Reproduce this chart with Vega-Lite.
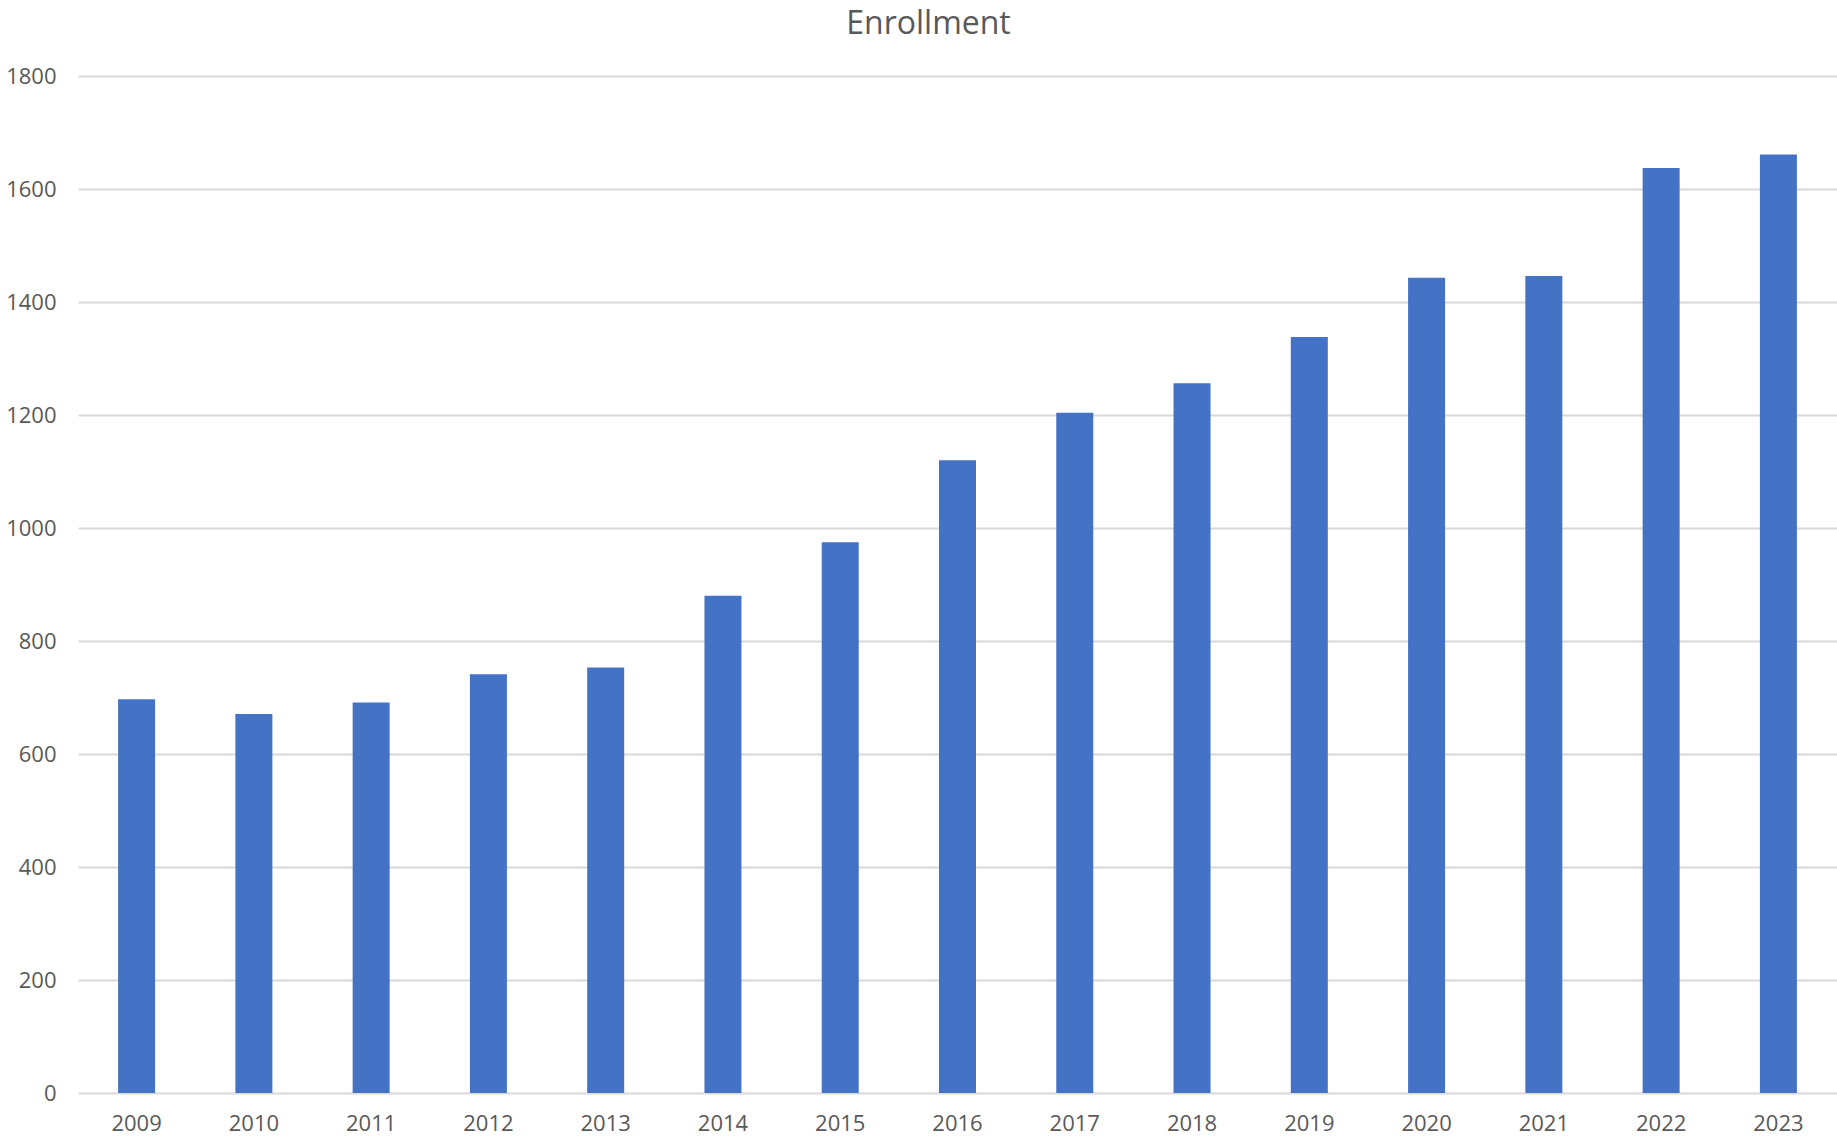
{
  "$schema": "https://vega.github.io/schema/vega-lite/v6.json",
  "autosize": {"type": "none"},
  "width": 1759,
  "height": 1017,
  "padding": {"left": 78, "top": 76, "right": 0, "bottom": 46},
  "background": "white",
  "title": {
    "text": "Enrollment",
    "font": "Open Sans",
    "fontSize": 32,
    "fontWeight": "normal",
    "color": "#595959",
    "anchor": "middle",
    "frame": "group",
    "dx": -29,
    "offset": 24
  },
  "data": {
    "values": [
      {"year": "2009", "enrollment": 697},
      {"year": "2010", "enrollment": 671},
      {"year": "2011", "enrollment": 691},
      {"year": "2012", "enrollment": 741},
      {"year": "2013", "enrollment": 753},
      {"year": "2014", "enrollment": 880},
      {"year": "2015", "enrollment": 975},
      {"year": "2016", "enrollment": 1120},
      {"year": "2017", "enrollment": 1204},
      {"year": "2018", "enrollment": 1256},
      {"year": "2019", "enrollment": 1338},
      {"year": "2020", "enrollment": 1443},
      {"year": "2021", "enrollment": 1446},
      {"year": "2022", "enrollment": 1637},
      {"year": "2023", "enrollment": 1661}
    ]
  },
  "mark": {"type": "bar", "color": "#4472C4"},
  "encoding": {
    "x": {
      "field": "year",
      "type": "ordinal",
      "scale": {"paddingInner": 0.6845, "paddingOuter": 0.342},
      "axis": {
        "title": null,
        "labelAngle": 0,
        "domain": false,
        "ticks": false,
        "labelPadding": 20,
        "labelFont": "Open Sans",
        "labelFontSize": 22,
        "labelColor": "#595959"
      }
    },
    "y": {
      "field": "enrollment",
      "type": "quantitative",
      "scale": {"domain": [0, 1800], "nice": false},
      "axis": {
        "title": null,
        "format": "d",
        "values": [0, 200, 400, 600, 800, 1000, 1200, 1400, 1600, 1800],
        "domain": false,
        "ticks": false,
        "grid": true,
        "gridColor": "#d9d9d9",
        "gridWidth": 2,
        "labelPadding": 22,
        "labelFont": "Open Sans",
        "labelFontSize": 22,
        "labelColor": "#595959"
      }
    }
  },
  "config": {"view": {"stroke": null}}
}
